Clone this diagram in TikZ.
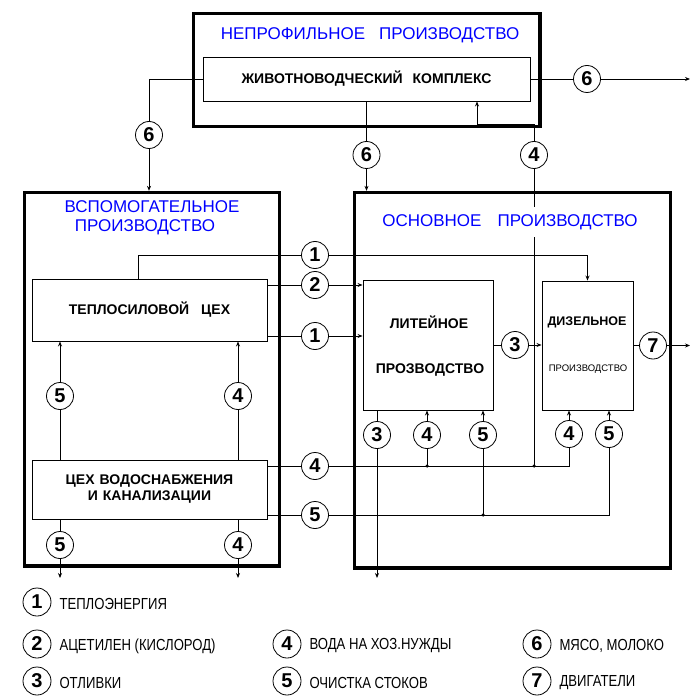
\documentclass[tikz,border=0pt]{standalone}
\usepackage{fontspec}
\setmainfont{Liberation Sans}
\newfontfamily\narrowfont[FakeStretch=0.82]{Liberation Sans}
\usetikzlibrary{arrows.meta,calc}
\begin{document}
\begin{tikzpicture}[x=1pt,y=-1pt,
  thickbox/.style={draw, line width=3.3pt, inner sep=0pt},
  box/.style={draw, line width=0.9pt, inner sep=0pt, align=center, font=\bfseries\fontsize{14}{16}\selectfont},
  ttl/.style={text=blue, font=\fontsize{17}{19}\selectfont, align=center},
  lbl/.style={font=\bfseries\fontsize{14}{15}\selectfont},
  num/.style={circle, draw, fill=white, line width=0.8pt, minimum size=27pt, inner sep=0pt, font=\bfseries\fontsize{20}{20}\selectfont},
  arr/.style={line width=0.9pt, -{Stealth[length=5pt,width=4pt]}},
  ln/.style={line width=0.9pt},
  jdot/.style={circle, fill, inner sep=0pt, minimum size=3.5pt},
  leg/.style={font=\narrowfont\fontsize{16}{18}\selectfont, anchor=west}]
\useasboundingbox (0,0) rectangle (700,700);
\fill[white] (0,0) rectangle (700,700);

% ---- boxes ----
\node[thickbox, minimum width=346.5pt, minimum height=113pt] (np) at (366.75,70) {};
\node[box, minimum width=327pt, minimum height=44pt] (zhk) at (366.5,79) {ЖИВОТНОВОДЧЕСКИЙ\hspace{10pt}КОМПЛЕКС};
\node[thickbox, minimum width=255pt, minimum height=373.5pt] (vsp) at (152,379.25) {};
\node[thickbox, minimum width=316pt, minimum height=375.5pt] (osn) at (512.5,380.25) {};
\node[box, minimum width=235pt, minimum height=62pt] (teplo) at (149.5,310) {ТЕПЛОСИЛОВОЙ\hspace{12pt}ЦЕХ};
\node[box, minimum width=235pt, minimum height=59pt] (vodo) at (149.5,489.5) {ЦЕХ\hspace{5pt}ВОДОСНАБЖЕНИЯ\\И\hspace{5pt}КАНАЛИЗАЦИИ};
\node[box, minimum width=130pt, minimum height=130pt] (lit) at (428,345) {};
\node[lbl] (litA) at (429,322) {ЛИТЕЙНОЕ};
\node[lbl] (litB) at (430,370) {ПРОЗВОДСТВО};
\node[box, minimum width=91pt, minimum height=129pt] (diz) at (587.5,345.5) {};
\node[lbl, font=\bfseries\fontsize{12.5}{15}\selectfont] (dizA) at (587,322) {ДИЗЕЛЬНОЕ};
\node[font=\fontsize{9.5}{11}\selectfont] (dizB) at (588,369) {ПРОИЗВОДСТВО};

% titles
\node[ttl] (t1) at (370,35) {НЕПРОФИЛЬНОЕ\hspace{14pt}ПРОИЗВОДСТВО};
\node[ttl] (t2) at (152,218) {ВСПОМОГАТЕЛЬНОЕ\\ПРОИЗВОДСТВО\hspace*{14pt}};

% ---- helper coordinates ----
\coordinate (c6l) at (149,135);
\coordinate (o6) at (690,0);
\coordinate (r1) at (0,336);
\coordinate (r2) at (0,285);
\coordinate (r4) at (0,466);
\coordinate (r5) at (0,515);
\coordinate (x569) at (569,0);
\coordinate (x609) at (609,0);
\coordinate (j4a) at (427,466);
\coordinate (j4b) at (534,466);
\coordinate (j5) at (483,515);
\coordinate (k4) at (477,124);
\coordinate (k1) at (138,255);
\coordinate (k3) at (377,578);
\coordinate (k5a) at (60,578);
\coordinate (k4a) at (238,578);

% ---- connectors ----
\draw[arr] (zhk.west) -| (c6l |- vsp.north);
\draw[arr] (zhk.east) -- (zhk.east -| o6);
\draw[arr] (zhk.south) -- (zhk.south |- osn.north);
\draw[arr] (j4b) |- (k4) -- (k4 |- zhk.south);
\draw[arr] (k1 |- teplo.north) -- (k1) -| (diz.north);
\draw[arr] (teplo.east |- r2) -- (lit.west |- r2);
\draw[arr] (teplo.east |- r1) -- (lit.west |- r1);
\draw[arr] (lit.east) -- (lit.east -| diz.west);
\draw[arr] (diz.east) -- (diz.east -| o6);
\draw[arr] (k3 |- lit.south) -- (k3);
\draw[arr] (vodo.east |- r4) -| (x569 |- diz.south);
\draw[arr] (vodo.east |- r5) -| (x609 |- diz.south);
\draw[arr] (j4a) -- (j4a |- lit.south);
\draw[arr] (j5) -- (j5 |- lit.south);
\draw[arr] (vodo.north -| k5a) -- (teplo.south -| k5a);
\draw[arr] (vodo.north -| k4a) -- (teplo.south -| k4a);
\draw[arr] (vodo.south -| k5a) -- (k5a);
\draw[arr] (vodo.south -| k4a) -- (k4a);

\node[jdot] (dA) at (j4a) {};
\node[jdot] (dB) at (j4b) {};
\node[jdot] (dC) at (j5) {};

% ---- numbered circles ----
\node[num] (n6a) at (149,135) {6};
\node[num] (n6b) at (587,79) {6};
\node[num] (n6c) at (366.5,155) {6};
\node[num] (n4a) at (534,155) {4};
\node[num] (n1a) at (315,255) {1};
\node[num] (n2a) at (315,285) {2};
\node[num] (n1b) at (315,336) {1};
\node[num] (n3a) at (515,345) {3};
\node[num] (n7a) at (653,345.5) {7};
\node[num] (n5a) at (60,396) {5};
\node[num] (n4b) at (238,396) {4};
\node[num] (n4c) at (315,466) {4};
\node[num] (n5b) at (315,515) {5};
\node[num] (n3b) at (377,435) {3};
\node[num] (n4d) at (427,435) {4};
\node[num] (n5c) at (483,435) {5};
\node[num] (n4e) at (569,434) {4};
\node[num] (n5d) at (609,434) {5};
\node[num] (n5e) at (60,545) {5};
\node[num] (n4f) at (238,545) {4};

% main title drawn last (white background interrupts line)
\node[ttl, fill=white, inner sep=7pt] (t3) at (510,222) {ОСНОВНОЕ\hspace{16pt}ПРОИЗВОДСТВО};

% ---- legend ----
\node[num, minimum size=28pt] (L1) at (37,602) {1};
\node[leg] (T1) at (56,604) {ТЕПЛОЭНЕРГИЯ};
\node[num, minimum size=28pt] (L2) at (37,644) {2};
\node[leg] (T2) at (56,646) {АЦЕТИЛЕН (КИСЛОРОД)};
\node[num, minimum size=28pt] (L3) at (37,681) {3};
\node[leg] (T3) at (56,683) {ОТЛИВКИ};
\node[num, minimum size=28pt] (L4) at (287,644) {4};
\node[leg] (T4) at (306,646) {ВОДА НА ХОЗ.НУЖДЫ};
\node[num, minimum size=28pt] (L5) at (287,681) {5};
\node[leg] (T5) at (306,683) {ОЧИСТКА СТОКОВ};
\node[num, minimum size=28pt] (L6) at (537,644) {6};
\node[leg] (T6) at (556,646) {МЯСО, МОЛОКО};
\node[num, minimum size=28pt] (L7) at (537,681) {7};
\node[leg] (T7) at (556,683) {ДВИГАТЕЛИ};
\end{tikzpicture}
\end{document}
